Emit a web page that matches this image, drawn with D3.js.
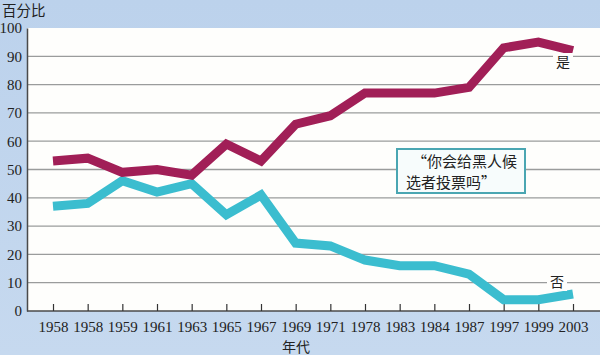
<!DOCTYPE html>
<html>
<head>
<meta charset="utf-8">
<script src="https://cdn.jsdelivr.net/npm/d3@7"></script>
<style>
  html, body { margin: 0; padding: 0; }
  body { width: 600px; height: 355px; overflow: hidden; }
</style>
</head>
<body>
<div id="chart"></div>
<script>
"use strict";

var years = ["1958", "1958", "1959", "1961", "1963", "1965", "1967", "1969",
             "1971", "1978", "1983", "1984", "1987", "1997", "1999", "2003"];
var yesValues = [53, 54, 49, 50, 48, 59, 53, 66, 69, 77, 77, 77, 79, 93, 95, 92];
var noValues  = [37, 38, 46, 42, 45, 34, 41, 24, 23, 18, 16, 16, 13, 4, 4, 6];
var yTicks = [0, 10, 20, 30, 40, 50, 60, 70, 80, 90, 100];
var question = ["\u201c你会给黑人候", "选者投票吗\u201d"];

var W = 600, H = 355;
var serif = "'Liberation Serif', 'Times New Roman', serif";
var cjk = "'Noto Sans CJK SC', sans-serif";

var svg = d3.select("#chart")
            .append("svg")
            .attr("width", W)
            .attr("height", H);

var defs = svg.append("defs");
var grad = defs.append("linearGradient")
               .attr("id", "bg")
               .attr("x1", 0).attr("y1", 0).attr("x2", 0).attr("y2", 1);
grad.append("stop").attr("offset", "0%").attr("stop-color", "#bcd2ec");
grad.append("stop").attr("offset", "100%").attr("stop-color", "#c6d9ef");

svg.append("rect")
   .attr("width", W).attr("height", H)
   .attr("fill", "url(#bg)");

var plotLeft = 27, plotRight = W, plotTop = 28, plotBottom = 311;

var x = d3.scalePoint()
          .domain(d3.range(years.length))
          .range([53, 573]);

var y = d3.scaleLinear()
          .domain([0, 100])
          .range([plotBottom, plotTop]);

// plot area
svg.append("rect")
   .attr("x", plotLeft).attr("y", plotTop)
   .attr("width", plotRight - plotLeft)
   .attr("height", plotBottom - plotTop)
   .attr("fill", "#fefefc");

// gridlines
svg.append("g")
   .selectAll("line")
   .data(yTicks.filter(function (d) { return d > 0 && d < 100; }))
   .enter()
   .append("line")
   .attr("x1", plotLeft).attr("x2", plotRight)
   .attr("y1", function (d) { return y(d); })
   .attr("y2", function (d) { return y(d); })
   .attr("stroke", "#9a9c9c")
   .attr("stroke-width", 1.3);

// y axis
var yAxis = d3.axisLeft(y)
              .tickValues(yTicks)
              .tickSize(0)
              .tickPadding(5);
var gy = svg.append("g")
            .attr("transform", "translate(" + plotLeft + ",0)")
            .call(yAxis);
gy.select(".domain").attr("stroke", "#4a4a4a").attr("stroke-width", 1.5);
gy.selectAll("text")
  .attr("font-family", serif)
  .attr("font-size", 15)
  .attr("fill", "#222");

// x axis
var xAxis = d3.axisBottom(x)
              .tickFormat(function (i) { return years[i]; })
              .tickSizeInner(-7)
              .tickSizeOuter(0)
              .tickPadding(10);
var gx = svg.append("g")
            .attr("transform", "translate(0," + plotBottom + ")")
            .call(xAxis);
gx.select(".domain")
  .attr("d", "M" + plotLeft + ",0H" + plotRight)
  .attr("stroke", "#4a4a4a").attr("stroke-width", 1.5);
gx.selectAll(".tick line").attr("stroke", "#333").attr("stroke-width", 1.2);
gx.selectAll("text")
  .attr("font-family", serif)
  .attr("font-size", 15)
  .attr("fill", "#222");

// titles
svg.append("text")
   .attr("x", 2).attr("y", 16)
   .attr("font-family", cjk)
   .attr("font-size", 14.5)
   .attr("fill", "#222")
   .text("百分比");

svg.append("text")
   .attr("x", 296).attr("y", 352)
   .attr("text-anchor", "middle")
   .attr("font-family", cjk)
   .attr("font-size", 14)
   .attr("fill", "#222")
   .text("年代");

// lines
var line = d3.line()
             .x(function (d, i) { return x(i); })
             .y(function (d) { return y(d); });

svg.append("path")
   .datum(noValues)
   .attr("d", line)
   .attr("fill", "none")
   .attr("stroke", "#3bbdcf")
   .attr("stroke-width", 9)
   .attr("stroke-linejoin", "miter");

svg.append("path")
   .datum(yesValues)
   .attr("d", line)
   .attr("fill", "none")
   .attr("stroke", "#a11f57")
   .attr("stroke-width", 9)
   .attr("stroke-linejoin", "miter");

// series labels with knock-out
function seriesLabel(txt, cx, cy) {
  svg.append("rect")
     .attr("x", cx - 10).attr("y", cy - 9)
     .attr("width", 20).attr("height", 18)
     .attr("fill", "#fefefc");
  svg.append("text")
     .attr("x", cx).attr("y", cy + 5)
     .attr("text-anchor", "middle")
     .attr("font-family", cjk)
     .attr("font-size", 14)
     .attr("fill", "#222")
     .text(txt);
}
seriesLabel("是", 563, 62);
seriesLabel("否", 557, 282);

// annotation box
svg.append("rect")
   .attr("x", 397).attr("y", 149)
   .attr("width", 128).attr("height", 44)
   .attr("fill", "#f7fcfc")
   .attr("stroke", "#4aa6b2")
   .attr("stroke-width", 2);

svg.append("g")
   .selectAll("text")
   .data(question)
   .enter()
   .append("text")
   .attr("x", function (d, i) { return i === 0 ? 412 : 406; })
   .attr("y", function (d, i) { return 167 + i * 21; })
   .attr("font-family", cjk)
   .attr("font-size", 15)
   .attr("fill", "#222")
   .text(function (d) { return d; });
</script>
</body>
</html>
